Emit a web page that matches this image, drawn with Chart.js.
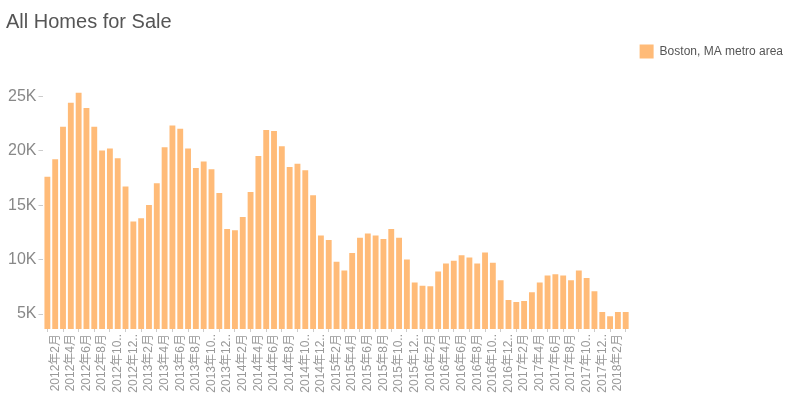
<!DOCTYPE html>
<html>
<head>
<meta charset="utf-8">
<script src="https://cdn.jsdelivr.net/npm/chart.js@4"></script>
<style>
  html, body { margin: 0; padding: 0; background: #fff; }
  #wrap { width: 793px; height: 394px; position: relative; }
</style>
</head>
<body>
<div id="wrap"><canvas id="chart"></canvas></div>
<script>
// monthly, 2012-01 .. 2018-03
const years = [2012, 2013, 2014, 2015, 2016, 2017, 2018];
const seriesName = 'Boston, MA metro area';
const listings = [
  17600, 19200, 22200, 24400, 25300, 23900, 22200, 20000, 20200, 19300, 16700, 13500,
  13800, 15000, 17000, 20300, 22300, 22000, 20200, 18400, 19000, 18300, 16100, 12800,
  12700, 13900, 16200, 19500, 21900, 21800, 20400, 18500, 18800, 18200, 15900, 12200,
  11800, 9800, 9000, 10600, 12000, 12400, 12200, 11900, 12800, 12000, 10000, 7900,
  7600, 7550, 8900, 9650, 9900, 10400, 10200, 9650, 10650, 9700, 8100, 6300,
  6100, 6200, 7000, 7900, 8550, 8650, 8550, 8100, 9000, 8300, 7100, 5200,
  4800, 5200, 5200
];
const yTicks = [5000, 10000, 15000, 20000, 25000];

const labels = [];
for (const y of years) {
  for (let m = 1; m <= 12; m++) {
    if (labels.length < listings.length) labels.push(`${y}年${m}月`);
  }
}

const ctx = document.getElementById('chart').getContext('2d');
new Chart(ctx, {
  type: 'bar',
  data: {
    labels: labels,
    datasets: [{
      label: seriesName,
      data: listings,
      backgroundColor: '#ffbb78',
      borderWidth: 0,
      barPercentage: 0.75,
      categoryPercentage: 1.0
    }]
  },
  options: {
    responsive: true,
    maintainAspectRatio: false,
    animation: false,
    layout: { padding: { left: 6, right: 0, top: 0, bottom: 0 } },
    plugins: {
      title: {
        display: true,
        text: 'All Homes for Sale',
        align: 'start',
        color: '#555',
        font: { family: 'Arial, "Liberation Sans"', size: 20, weight: 'normal' },
        padding: { top: 10, bottom: 12 }
      },
      legend: {
        position: 'right',
        align: 'start',
        // blank legend title just pushes the entry down
        title: { display: true, text: ' ', padding: { top: 0, bottom: 20 }, font: { size: 12 } },
        labels: {
          color: '#555',
          boxWidth: 14,
          boxHeight: 14,
          font: { family: 'Arial, "Liberation Sans"', size: 12 }
        }
      },
      tooltip: { enabled: false }
    },
    scales: {
      x: {
        grid: { display: true, drawOnChartArea: false, tickLength: 3, color: '#ccc' },
        border: { display: false },
        afterFit: axis => { axis.height = 65; },
        ticks: {
          autoSkip: false,
          maxRotation: 90,
          minRotation: 90,
          padding: 2,
          color: '#999',
          font: { family: 'Arial, "Liberation Sans", "Noto Sans CJK SC"', size: 12 },
          callback: function(value, index) {
            if (index % 2 !== 1) return null;
            const s = this.getLabelForValue(value);
            return s.length > 7 ? s.slice(0, 7) + '..' : s;
          }
        }
      },
      y: {
        min: 3630,
        max: 29600,
        grid: { display: true, drawOnChartArea: false, tickLength: 5, color: '#ccc' },
        border: { display: false },
        afterBuildTicks: axis => { axis.ticks = yTicks.map(v => ({ value: v })); },
        ticks: {
          padding: 2,
          color: '#888',
          font: { family: 'Arial, "Liberation Sans"', size: 16 },
          callback: v => (v / 1000) + 'K'
        }
      }
    }
  }
});
</script>
</body>
</html>
